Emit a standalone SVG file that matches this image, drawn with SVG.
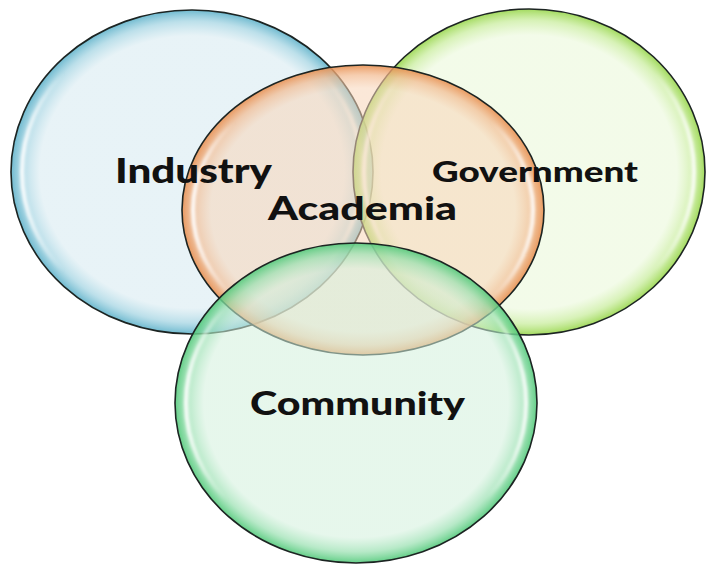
<svg xmlns="http://www.w3.org/2000/svg" width="706" height="564" viewBox="0 0 706 564">
  <defs>
    <!-- translucent bubble fills: pale centre, coloured rim -->
    <radialGradient id="fillBlue">
      <stop offset="0" stop-color="#d5e9f0" stop-opacity="0.55"/>
      <stop offset="0.84" stop-color="#d5e9f0" stop-opacity="0.55"/>
      <stop offset="0.93" stop-color="#9fd2e1" stop-opacity="0.7"/>
      <stop offset="1" stop-color="#5fb2ca" stop-opacity="0.9"/>
    </radialGradient>
    <radialGradient id="fillLime">
      <stop offset="0" stop-color="#e9f8d7" stop-opacity="0.55"/>
      <stop offset="0.84" stop-color="#e9f8d7" stop-opacity="0.55"/>
      <stop offset="0.93" stop-color="#c6ec98" stop-opacity="0.7"/>
      <stop offset="1" stop-color="#98d64c" stop-opacity="0.9"/>
    </radialGradient>
    <radialGradient id="fillOrange">
      <stop offset="0" stop-color="#f8d5b8" stop-opacity="0.55"/>
      <stop offset="0.84" stop-color="#f8d5b8" stop-opacity="0.55"/>
      <stop offset="0.93" stop-color="#f2b98e" stop-opacity="0.7"/>
      <stop offset="1" stop-color="#e88f50" stop-opacity="0.9"/>
    </radialGradient>
    <radialGradient id="fillGreen">
      <stop offset="0" stop-color="#d2f0dc" stop-opacity="0.55"/>
      <stop offset="0.84" stop-color="#d2f0dc" stop-opacity="0.55"/>
      <stop offset="0.93" stop-color="#98e0b0" stop-opacity="0.7"/>
      <stop offset="1" stop-color="#52c97a" stop-opacity="0.9"/>
    </radialGradient>
    <!-- glossy rim highlight, strongest at the left and right sides -->
    <linearGradient id="gloss" x1="0" y1="0" x2="1" y2="0">
      <stop offset="0" stop-color="#ffffff" stop-opacity="0.95"/>
      <stop offset="0.12" stop-color="#ffffff" stop-opacity="0"/>
      <stop offset="0.88" stop-color="#ffffff" stop-opacity="0"/>
      <stop offset="1" stop-color="#ffffff" stop-opacity="0.9"/>
    </linearGradient>
    <filter id="soft" x="-10%" y="-10%" width="120%" height="120%">
      <feGaussianBlur stdDeviation="1.6"/>
    </filter>
  </defs>
  <style>
    .rim { stroke: #1c2422; stroke-width: 1.6; }
    .shine { fill: none; stroke: url(#gloss); stroke-width: 4; filter: url(#soft); }
    .label { font-family: "Lato", "DejaVu Sans", sans-serif; font-weight: 900; fill: #111111; }
  </style>

  <rect width="706" height="564" fill="#ffffff"/>

  <!-- overlapping bubbles, back to front -->
  <g id="industry">
    <ellipse class="rim" cx="192" cy="172" rx="181" ry="162" fill="url(#fillBlue)"/>
    <ellipse class="shine" cx="192" cy="172" rx="170" ry="152"/>
  </g>

  <g id="government">
    <ellipse class="rim" cx="529" cy="172" rx="176" ry="163" fill="url(#fillLime)"/>
    <ellipse class="shine" cx="529" cy="172" rx="165" ry="153"/>
  </g>

  <g id="academia">
    <ellipse class="rim" cx="363" cy="210" rx="181" ry="145" fill="url(#fillOrange)"/>
    <ellipse class="shine" cx="363" cy="210" rx="170" ry="135"/>
  </g>

  <g id="community">
    <ellipse class="rim" cx="356" cy="403" rx="181" ry="160" fill="url(#fillGreen)"/>
    <ellipse class="shine" cx="356" cy="403" rx="170" ry="150"/>
  </g>

  <!-- labels sit above all bubbles so they stay fully dark -->
  <g id="labels">
    <text id="industry-label" class="label" x="115" y="183" font-size="34" textLength="157" lengthAdjust="spacingAndGlyphs">Industry</text>
    <text id="government-label" class="label" x="432" y="182" font-size="28" textLength="206" lengthAdjust="spacingAndGlyphs">Government</text>
    <text id="academia-label" class="label" x="268" y="220" font-size="32" textLength="189" lengthAdjust="spacingAndGlyphs">Academia</text>
    <text id="community-label" class="label" x="250" y="415" font-size="32" textLength="215" lengthAdjust="spacingAndGlyphs">Community</text>
  </g>

  <g id="connectors"/>
</svg>
